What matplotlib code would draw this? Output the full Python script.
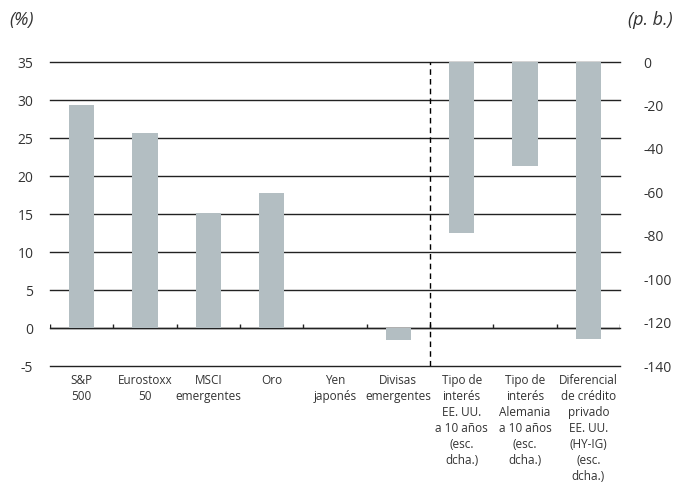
import numpy as np
import matplotlib.pyplot as plt

plt.rcParams['font.family'] = ['Open Sans', 'DejaVu Sans']
plt.rcParams['axes.unicode_minus'] = False

labels = ['S&P\n500', 'Eurostoxx\n50', 'MSCI\nemergentes', 'Oro', 'Yen\njaponés',
          'Divisas\nemergentes',
          'Tipo de\ninterés\nEE. UU.\na 10 años\n(esc.\ndcha.)',
          'Tipo de\ninterés\nAlemania\na 10 años\n(esc.\ndcha.)',
          'Diferencial\nde crédito\nprivado\nEE. UU.\n(HY-IG)\n(esc.\ndcha.)']
left_vals = [29.3, 25.7, 15.1, 17.8, 0.0, -1.6]      # %
right_vals = [-78.7, -47.9, -127.7]                   # p. b.

bar_color = '#b3bec2'
grid_color = '#222222'
text_color = '#333333'

fig = plt.figure(figsize=(6.83, 5.0), dpi=100)
ax = fig.add_axes([50 / 683, 134 / 500, 570 / 683, 304 / 500])

x = np.arange(len(labels))
xl = x[:len(left_vals)]
xr = x[len(left_vals):]

ax.set_xlim(-0.5, len(labels) - 0.5)
ax.set_ylim(-5, 35)
ax.set_yticks(np.arange(-5, 36, 5))
ax.set_axisbelow(True)
ax.yaxis.grid(True, color=grid_color, linewidth=1.0)
for gl in ax.get_ygridlines():
    gl.set_clip_on(False)
ax.bar(xl, left_vals, width=0.4, color=bar_color, zorder=3)

# zero line with small ticks between categories
ax.axhline(0, color=grid_color, linewidth=1.0, zorder=2)
bounds = np.arange(-0.5, len(labels), 1.0)
ax.vlines(bounds, 0, 0.55, color=grid_color, linewidth=1.0, zorder=2)

ax.axvline(5.5, color='black', linestyle=(0, (4, 3)), linewidth=1.0, zorder=4)

for s in ax.spines.values():
    s.set_visible(False)
ax.tick_params(axis='y', length=0, pad=12, labelsize=10, labelcolor=text_color)
ax.set_xticks(x)
ax.set_xticklabels(labels, fontsize=8.5, color=text_color, linespacing=1.3)
ax.tick_params(axis='x', length=0, pad=6)

ax2 = ax.twinx()
ax2.set_ylim(-140, 0)
ax2.set_yticks(np.arange(-140, 1, 20))
ax2.bar(xr, right_vals, width=0.4, color=bar_color, zorder=3)
for s in ax2.spines.values():
    s.set_visible(False)
ax2.tick_params(axis='y', length=0, pad=17, labelsize=10, labelcolor=text_color)

fig.text(0.013, 0.96, '(%)', fontsize=13, style='italic', color=text_color, va='center')
fig.text(0.985, 0.96, '(p. b.)', fontsize=13, style='italic', color=text_color,
         va='center', ha='right')

fig.savefig('out.png', dpi=100)
